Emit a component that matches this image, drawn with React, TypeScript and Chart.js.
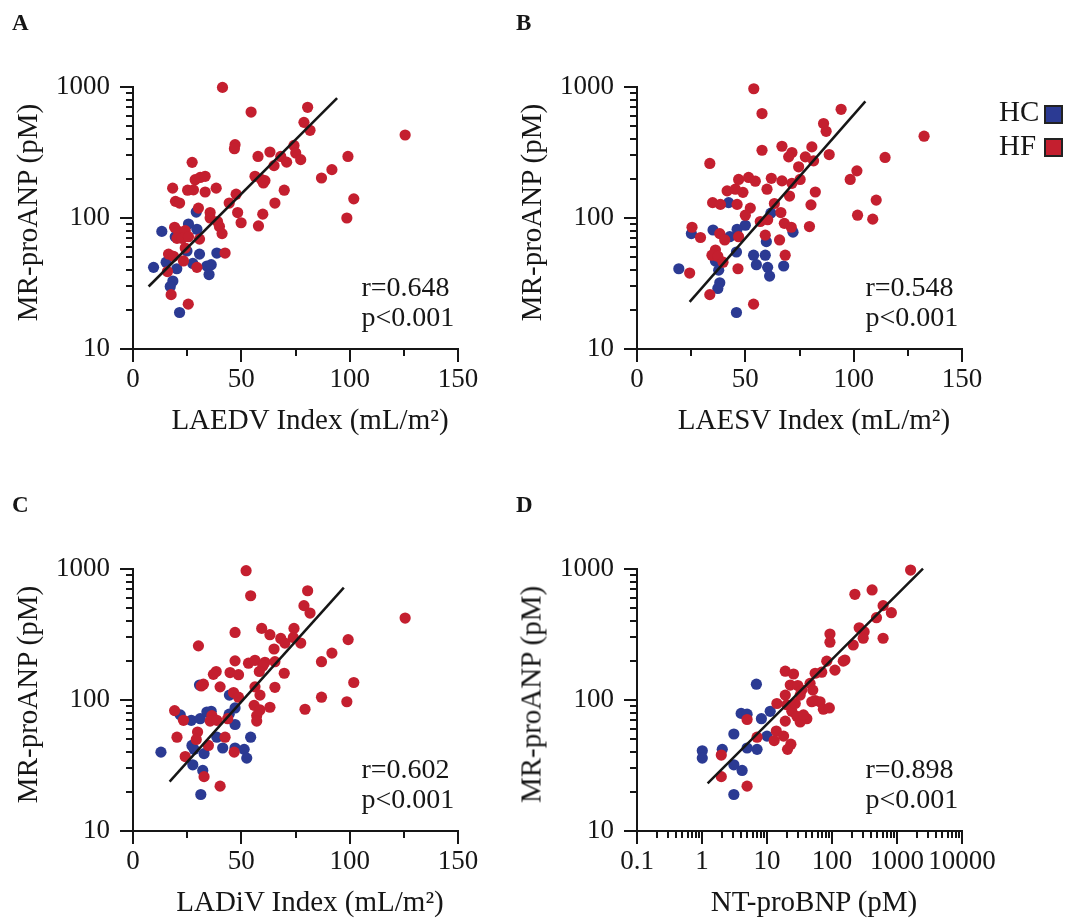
import React, { useEffect, useRef } from 'react';
import { Chart, registerables } from 'chart.js';

Chart.register(...registerables);

const FONT = '"Liberation Serif", "Times New Roman", Times, serif';
const INK = '#161616';
const HC_COLOR = '#2B3A93';
const HF_COLOR = '#C41F2F';

// ---------- Panel A: LAEDV Index ----------
const laedvHfX = [41.3, 54.5, 80.6, 78.9, 81.7, 125.6, 47.1, 46.8, 57.7, 63.2, 68.2, 70.9, 65.1, 74.3, 75.1, 77.4, 99.2, 91.8, 87.0, 27.3, 28.7, 31.0, 33.3, 18.3, 25.2, 27.9, 33.3, 38.4, 56.3, 59.4, 60.9, 60.2, 47.6, 44.4, 69.8, 65.5, 19.6, 21.5, 30.2, 35.6, 35.6, 48.3, 49.9, 59.9, 57.9, 98.7, 101.9, 39.0, 39.9, 41.1, 19.2, 21.0, 24.1, 20.3, 22.6, 25.6, 30.7, 24.1, 16.4, 18.7, 23.3, 42.5, 29.5, 15.9, 17.6, 25.5];
const laedvHfY = [993, 644, 700, 537, 467, 430, 363, 338, 295, 319, 295, 267, 251, 358, 313, 279, 295, 234, 202, 266, 196, 204, 208, 169, 163, 164, 158, 169, 208, 196, 193, 185, 152, 130, 163, 130, 134, 130, 119, 110, 100, 110, 92, 107, 87, 100, 140, 94, 86, 76, 85, 79, 80, 70, 70, 72, 69, 59, 53, 51, 47, 54, 42, 39, 26, 22];
const laedvHcX = [29.2, 25.6, 29.5, 13.3, 19.5, 24.9, 30.7, 38.7, 15.3, 9.5, 20.2, 27.6, 34.1, 36.1, 35.1, 18.4, 17.2, 21.5];
const laedvHcY = [111, 90, 82, 79, 72, 56, 53, 54, 46, 42, 41, 45, 43, 44, 37, 33, 30, 19];
const laedvFitX = [7.2, 94.2];
const laedvFitY = [30, 824];

// ---------- Panel B: LAESV Index ----------
const laesvHfX = [53.9, 57.7, 94.2, 86.1, 87.3, 132.5, 57.7, 66.9, 71.5, 70.0, 77.7, 80.7, 88.7, 81.5, 74.6, 114.5, 101.5, 98.4, 33.6, 46.9, 51.5, 54.6, 62.0, 66.9, 71.5, 75.3, 41.6, 45.4, 48.9, 60.0, 70.4, 82.3, 34.9, 38.5, 46.2, 63.4, 80.3, 110.4, 52.3, 50.0, 66.4, 56.9, 60.3, 68.0, 71.2, 79.6, 101.8, 108.8, 25.4, 29.3, 38.2, 40.5, 46.9, 59.2, 65.8, 36.2, 34.6, 37.3, 39.7, 68.4, 46.6, 24.3, 33.6, 53.8];
const laesvHfY = [970, 627, 676, 526, 459, 421, 329, 353, 316, 293, 293, 349, 305, 273, 246, 290, 229, 197, 261, 197, 204, 191, 201, 192, 184, 197, 161, 166, 157, 166, 147, 158, 131, 127, 127, 129, 126, 137, 119, 105, 110, 94, 97, 91, 85, 86, 105, 98, 85, 71, 76, 68, 72, 74, 68, 57, 52, 51, 46, 52, 41, 38, 26, 22];
const laesvHcX = [42.3, 61.8, 50.0, 46.2, 25.1, 35.1, 42.8, 72.0, 59.7, 45.9, 53.8, 59.2, 36.2, 55.1, 60.3, 67.7, 19.3, 37.7, 61.2, 38.2, 37.3, 45.9];
const laesvHcY = [131, 109, 88, 82, 76, 81, 72, 78, 66, 55, 52, 52, 47, 44, 42, 43, 41, 40, 36, 32, 29, 19];
const laesvFitX = [24.3, 105.4];
const laesvFitY = [22.9, 776];

// ---------- Panel C: LADiV Index ----------
const ladivHfX = [52.2, 54.3, 80.6, 78.9, 81.7, 125.6, 30.2, 47.1, 59.4, 63.2, 68.2, 70.1, 65.1, 74.3, 74.0, 77.4, 99.3, 91.8, 87.0, 47.1, 53.3, 56.3, 60.9, 59.9, 65.5, 58.3, 38.4, 37.1, 44.8, 48.7, 69.8, 31.5, 32.5, 40.2, 56.3, 65.5, 101.9, 46.4, 48.7, 58.6, 55.9, 58.6, 63.2, 57.1, 57.1, 79.4, 87.0, 98.7, 19.2, 23.3, 36.4, 35.6, 38.7, 43.7, 29.8, 20.3, 29.2, 34.8, 42.5, 46.7, 24.1, 32.8, 40.2];
const ladivHfY = [971, 625, 682, 525, 461, 422, 259, 328, 352, 315, 295, 272, 245, 352, 300, 272, 289, 228, 196, 199, 191, 201, 194, 182, 196, 165, 165, 157, 162, 156, 160, 128, 132, 126, 126, 125, 136, 114, 105, 109, 91, 84, 88, 76, 69, 85, 105, 97, 83, 70, 76, 69, 70, 72, 57, 52, 50, 45, 52, 40, 37, 26, 22];
const ladivHcX = [30.7, 44.5, 47.1, 21.8, 26.9, 31.0, 34.1, 36.1, 44.4, 47.1, 38.7, 54.3, 27.2, 41.4, 47.1, 51.3, 12.9, 28.2, 32.8, 52.5, 27.6, 32.2, 31.3];
const ladivHcY = [130, 109, 87, 77, 70, 72, 81, 82, 78, 65, 52, 52, 45, 43, 43, 42, 40, 42, 39, 36, 32, 29, 19];
const ladivFitX = [16.9, 97.3];
const ladivFitY = [23.8, 720];

// ---------- Panel D: NT-proBNP ----------
const ntHfX = [1618, 225, 414, 611, 819, 483, 93, 93, 262, 312, 302, 212, 611, 158, 83, 111, 69.5, 55, 19.1, 25.6, 46, 22.8, 29.8, 34.3, 50.6, 19.1, 32.4, 14.2, 20.2, 55, 65.5, 73.6, 91, 24.1, 28.8, 41, 19.1, 32.4, 4.94, 13.9, 18, 12.9, 7.03, 23.3, 20.7, 1.98, 1.98, 4.94, 36.4, 48.9, 27.2, 149];
const ntHfY = [982, 641, 692, 525, 464, 425, 319, 276, 356, 332, 296, 263, 296, 202, 198, 169, 163, 160, 166, 158, 134, 130, 129, 119, 119, 109, 109, 94, 92, 99, 97, 85, 87, 82, 75, 72, 69, 68, 71, 58, 53, 49, 52, 46, 42, 38, 26, 22, 77, 97, 94, 198];
const ntHcX = [6.87, 4.0, 4.94, 11.2, 8.2, 10, 3.09, 4.94, 7.03, 2.05, 1.01, 1.01, 3.09, 4.14, 3.09];
const ntHcY = [132, 79, 78, 82, 72, 53, 55, 43, 42, 42, 41, 36, 32, 29, 19];
const ntFitX = [1.22, 2512];
const ntFitY = [23.1, 1005];

// ---------- Axis ticks ----------
const yMajorTicks = [10, 100, 1000];
const yMinorTicks = [20, 30, 40, 50, 60, 70, 80, 90, 200, 300, 400, 500, 600, 700, 800, 900];
const linXMajorTicks = [0, 50, 100, 150];
const linXMinorTicks = [25, 75, 125];
const logXMajorTicks = [0.1, 1, 10, 100, 1000, 10000];
const logXMinorTicks: number[] = [];
for (let d = 0.1; d < 5000; d *= 10) {
  for (let m = 2; m <= 9; m++) logXMinorTicks.push(+(d * m).toPrecision(3));
}

const stats = {
  A: ['r=0.648', 'p<0.001'],
  B: ['r=0.548', 'p<0.001'],
  C: ['r=0.602', 'p<0.001'],
  D: ['r=0.898', 'p<0.001'],
};

const yTitle = 'MR-proANP (pM)';
const xTitles = {
  A: 'LAEDV Index (mL/m²)',
  B: 'LAESV Index (mL/m²)',
  C: 'LADiV Index (mL/m²)',
  D: 'NT-proBNP (pM)',
};

const MAJOR_LEN = 13;
const MINOR_LEN = 7;
const DOT_R = 5.6;

const prismTicks = {
  id: 'prismTicks',
  beforeDatasetsDraw(chart: any, _args: any, opts: any) {
    const { ctx, chartArea } = chart;
    const xs = chart.scales.x;
    const ys = chart.scales.y;
    ctx.save();
    ctx.strokeStyle = INK;
    ctx.lineWidth = 2;
    ctx.lineCap = 'butt';
    const drawY = (vals: number[], len: number) => {
      vals.forEach((v) => {
        const py = Math.round(ys.getPixelForValue(v));
        ctx.beginPath();
        ctx.moveTo(chartArea.left - len, py);
        ctx.lineTo(chartArea.left + 1, py);
        ctx.stroke();
      });
    };
    const drawX = (vals: number[], len: number) => {
      vals.forEach((v) => {
        const px = Math.round(xs.getPixelForValue(v));
        ctx.beginPath();
        ctx.moveTo(px, chartArea.bottom - 1);
        ctx.lineTo(px, chartArea.bottom + len);
        ctx.stroke();
      });
    };
    drawY(yMajorTicks, MAJOR_LEN);
    drawY(yMinorTicks, MINOR_LEN);
    drawX(opts.xMajor, MAJOR_LEN);
    drawX(opts.xMinor, MINOR_LEN);
    ctx.restore();
  },
};

type Spec = {
  key: string;
  left: number;
  top: number;
  width: number;
  height: number;
  area: { l: number; r: number; t: number; b: number };
  xType: 'linear' | 'logarithmic';
  xMin: number;
  xMax: number;
  xMajor: number[];
  xMinor: number[];
  hcX: number[];
  hcY: number[];
  hfX: number[];
  hfY: number[];
  fitX: number[];
  fitY: number[];
};

const specs: Spec[] = [
  {
    key: 'A', left: 0, top: 0, width: 520, height: 460,
    area: { l: 133, r: 458, t: 87, b: 349 },
    xType: 'linear', xMin: 0, xMax: 150, xMajor: linXMajorTicks, xMinor: linXMinorTicks,
    hcX: laedvHcX, hcY: laedvHcY, hfX: laedvHfX, hfY: laedvHfY, fitX: laedvFitX, fitY: laedvFitY,
  },
  {
    key: 'B', left: 520, top: 0, width: 550, height: 460,
    area: { l: 117, r: 442, t: 87, b: 349 },
    xType: 'linear', xMin: 0, xMax: 150, xMajor: linXMajorTicks, xMinor: linXMinorTicks,
    hcX: laesvHcX, hcY: laesvHcY, hfX: laesvHfX, hfY: laesvHfY, fitX: laesvFitX, fitY: laesvFitY,
  },
  {
    key: 'C', left: 0, top: 460, width: 520, height: 460,
    area: { l: 133, r: 458, t: 109, b: 371 },
    xType: 'linear', xMin: 0, xMax: 150, xMajor: linXMajorTicks, xMinor: linXMinorTicks,
    hcX: ladivHcX, hcY: ladivHcY, hfX: ladivHfX, hfY: ladivHfY, fitX: ladivFitX, fitY: ladivFitY,
  },
  {
    key: 'D', left: 520, top: 460, width: 550, height: 460,
    area: { l: 117, r: 442, t: 109, b: 371 },
    xType: 'logarithmic', xMin: 0.1, xMax: 10000, xMajor: logXMajorTicks, xMinor: logXMinorTicks,
    hcX: ntHcX, hcY: ntHcY, hfX: ntHfX, hfY: ntHfY, fitX: ntFitX, fitY: ntFitY,
  },
];

const zip = (xs: number[], ys: number[]) => xs.map((x, i) => ({ x, y: ys[i] }));

function PanelChart({ spec }: { spec: Spec }) {
  const ref = useRef<HTMLCanvasElement>(null);
  useEffect(() => {
    const tickFont = { family: FONT, size: 27 };
    const chart = new Chart(ref.current as HTMLCanvasElement, {
      type: 'scatter',
      data: {
        datasets: [
          {
            label: 'fit',
            data: zip(spec.fitX, spec.fitY),
            showLine: true,
            borderColor: INK,
            borderWidth: 2.5,
            pointRadius: 0,
            pointHoverRadius: 0,
            order: 0,
            clip: false,
          } as any,
          {
            label: 'HF',
            data: zip(spec.hfX, spec.hfY),
            backgroundColor: HF_COLOR,
            borderWidth: 0,
            pointRadius: DOT_R,
            order: 1,
            clip: false,
          },
          {
            label: 'HC',
            data: zip(spec.hcX, spec.hcY),
            backgroundColor: HC_COLOR,
            borderWidth: 0,
            pointRadius: DOT_R,
            order: 2,
            clip: false,
          },
        ],
      },
      options: {
        animation: false,
        responsive: false,
        maintainAspectRatio: false,
        events: [],
        layout: {
          padding: { left: 0, top: spec.area.t, right: spec.width - spec.area.r, bottom: 0 },
        },
        plugins: {
          legend: { display: false },
          tooltip: { enabled: false },
          prismTicks: { xMajor: spec.xMajor, xMinor: spec.xMinor },
        } as any,
        scales: {
          x: {
            type: spec.xType,
            min: spec.xMin,
            max: spec.xMax,
            afterFit: (s: any) => { s.height = spec.height - spec.area.b; },
            afterBuildTicks: (s: any) => { s.ticks = spec.xMajor.map((v) => ({ value: v })); },
            ticks: {
              autoSkip: false,
              maxRotation: 0,
              minRotation: 0,
              padding: 2,
              color: INK,
              font: tickFont,
              callback: (v: any) => String(v),
            },
            grid: { display: false, drawTicks: true, tickLength: MAJOR_LEN },
            border: { display: true, color: INK, width: 2 },
          } as any,
          y: {
            type: 'logarithmic',
            min: 10,
            max: 1000,
            afterFit: (s: any) => { s.width = spec.area.l; },
            afterBuildTicks: (s: any) => { s.ticks = yMajorTicks.map((v) => ({ value: v })); },
            ticks: {
              autoSkip: false,
              padding: 10,
              color: INK,
              font: tickFont,
              callback: (v: any) => String(v),
            },
            grid: { display: false, drawTicks: true, tickLength: MAJOR_LEN },
            border: { display: true, color: INK, width: 2 },
          } as any,
        },
      },
      plugins: [prismTicks],
    });
    return () => chart.destroy();
  }, [spec]);
  return (
    <canvas
      ref={ref}
      width={spec.width}
      height={spec.height}
      style={{ position: 'absolute', left: spec.left, top: spec.top, width: spec.width, height: spec.height }}
    />
  );
}

const ASC = 0.8375; // baseline offset for line-height = font size (Liberation Serif)

function Txt({ x, base, size, bold, center, children }: any) {
  const style: any = {
    position: 'absolute',
    top: base - ASC * size,
    fontSize: size,
    lineHeight: `${size}px`,
    height: size,
    fontFamily: FONT,
    fontWeight: bold ? 'bold' : 'normal',
    whiteSpace: 'nowrap',
    color: INK,
    margin: 0,
  };
  if (center) {
    style.left = x - 300;
    style.width = 600;
    style.textAlign = 'center';
  } else {
    style.left = x;
  }
  return <div style={style}>{children}</div>;
}

function YTitle({ baseX, cy, size, children }: any) {
  const W = 400;
  const cx = baseX - (ASC - 0.5) * size;
  return (
    <div
      style={{
        position: 'absolute',
        left: cx - W / 2,
        top: cy - size / 2,
        width: W,
        height: size,
        lineHeight: `${size}px`,
        fontSize: size,
        fontFamily: FONT,
        color: INK,
        textAlign: 'center',
        whiteSpace: 'nowrap',
        transform: 'rotate(-90deg)',
        transformOrigin: '50% 50%',
      }}
    >
      {children}
    </div>
  );
}

const COL_DX = 504;
const ROW_DY = 482;

export default function App() {
  const offsets: any = { A: [0, 0], B: [COL_DX, 0], C: [0, ROW_DY], D: [COL_DX, ROW_DY] };
  return (
    <div
      style={{
        position: 'absolute',
        left: 0,
        top: 0,
        width: 1070,
        height: 920,
        background: '#ffffff',
        overflow: 'hidden',
      }}
    >
      {specs.map((s) => (
        <PanelChart key={s.key} spec={s} />
      ))}
      {(['A', 'B', 'C', 'D'] as const).map((k) => {
        const [dx, dy] = offsets[k];
        return (
          <React.Fragment key={k}>
            <Txt x={12 + dx} base={30 + dy} size={23} bold>{k}</Txt>
            <YTitle baseX={36.7 + dx} cy={212 + dy} size={29}>{yTitle}</YTitle>
            <Txt x={310 + dx} base={429 + dy} size={29} center>{(xTitles as any)[k]}</Txt>
            <Txt x={361.5 + dx} base={296.5 + dy} size={28}>{(stats as any)[k][0]}</Txt>
            <Txt x={361.5 + dx} base={326.5 + dy} size={28}>{(stats as any)[k][1]}</Txt>
          </React.Fragment>
        );
      })}
      <Txt x={999} base={121.5} size={29}>HC</Txt>
      <div style={{ position: 'absolute', left: 1044, top: 105, width: 15, height: 15, background: HC_COLOR, border: '2px solid #222' }} />
      <Txt x={999} base={155} size={29}>HF</Txt>
      <div style={{ position: 'absolute', left: 1044, top: 138, width: 15, height: 15, background: HF_COLOR, border: '2px solid #222' }} />
    </div>
  );
}
